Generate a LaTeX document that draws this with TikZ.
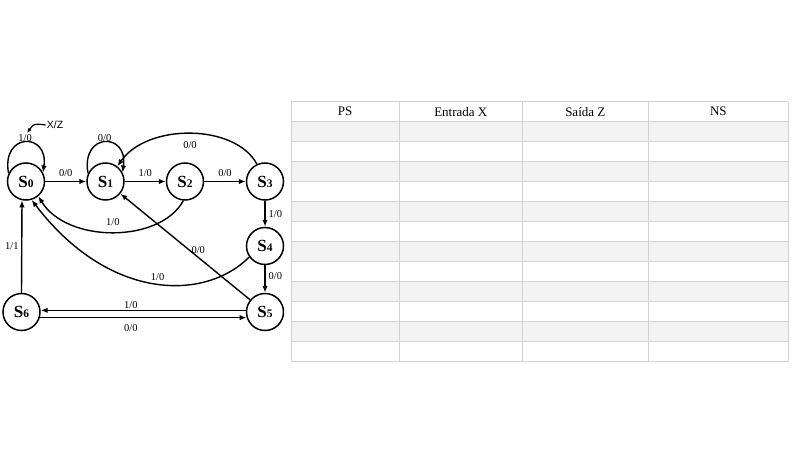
\documentclass[tikz,border=0pt]{standalone}
\usepackage{fontspec}
\setmainfont{Liberation Serif}
\newfontfamily\xzsans{Liberation Sans}
\usetikzlibrary{arrows.meta,calc}
\definecolor{gridline}{HTML}{D2D2D2}
\definecolor{rowgray}{HTML}{F3F3F3}
\newcommand\stname[1]{{\fontsize{17}{17}\selectfont\bfseries S}{\fontsize{11.5}{11.5}\selectfont\bfseries #1}}
\begin{document}
\begin{tikzpicture}[x=1pt,y=-1pt,
  state/.style={circle,draw,line width=1.5pt,minimum size=37pt,inner sep=0pt},
  edge/.style={line width=1.4pt,-{Latex[length=7pt,width=5.5pt]}},
  lbl/.style={font=\fontsize{10.5}{10.5}\selectfont,inner sep=1pt},
  hdr/.style={font=\fontsize{13}{13}\selectfont,inner sep=0pt},
  tline/.style={draw=gridline,line width=0.9pt},
  ]
\useasboundingbox (0,0) rectangle (800,465);

% ---------- table ----------
\foreach \r in {0,2,4,6,8,10}{
  \fill[rowgray] (291,{121.7+20*\r}) rectangle (788.3,{141.7+20*\r});
}
\foreach \y in {101.7,121.7,141.7,161.7,181.7,201.7,221.7,241.7,261.7,281.7,301.7,321.7,341.7,361.7}{
  \draw[tline] (291,\y) -- (788.3,\y);
}
\foreach \x in {291,399.3,522.3,648.3,788.3}{
  \draw[tline] (\x,101.7) -- (\x,361.7);
}
\node[hdr] (hPS) at (345,111.7) {PS};
\node[hdr] (hX) at (460.8,111.7) {Entrada X};
\node[hdr] (hZ) at (585.3,111.7) {Saída Z};
\node[hdr] (hNS) at (718.3,111.7) {NS};

% ---------- states ----------
\node[state] (S0) at (26,181.5) {\stname{0}};
\node[state] (S1) at (105.5,181.5) {\stname{1}};
\node[state] (S2) at (185,181.5) {\stname{2}};
\node[state] (S3) at (265,181.5) {\stname{3}};
\node[state] (S4) at (265,246) {\stname{4}};
\node[state] (S5) at (265,312) {\stname{5}};
\node[state] (S6) at (21.5,312) {\stname{6}};

% ---------- transitions ----------
\draw[edge] (S0.155) .. controls (1,132) and (49,132) .. node[lbl,pos=0.5,yshift=4pt] {1/0} (S0.28);
\draw[edge] (S1.155) .. controls (80.5,132) and (128.5,132) .. node[lbl,pos=0.5,yshift=4pt] {0/0} (S1.28);

\draw[edge] (S0) -- node[lbl,above=3pt] {0/0} (S1);
\draw[edge] (S1) -- node[lbl,above=3pt] {1/0} (S2);
\draw[edge] (S2) -- node[lbl,above=3pt] {0/0} (S3);

\draw[edge] (S3.115) .. controls (235,123.3) and (147,123.3) .. node[lbl,pos=0.5,yshift=-11pt] {0/0} (S1.52);

\draw[edge] (S3) -- node[lbl,right=2pt] {1/0} (S4);
\draw[edge] (S4) -- node[lbl,right=2pt,pos=0.4] {0/0} (S5);

\draw[edge] (S2.265) .. controls (160,243.4) and (67,243.4) .. node[lbl,pos=0.5,yshift=10pt] {1/0} (S0.310);
\draw[edge] (S4.215) .. controls (205,301.4) and (109,301.4) .. node[lbl,pos=0.48,yshift=7pt] {1/0} (S0.287);

\draw[edge] (S5) -- node[lbl,pos=0.4,above=2pt] {0/0} (S1);

\draw[edge] (S6.north) -- node[lbl,left=1.5pt] {1/1} (S0.258);

\draw[edge] (S5.175) -- node[lbl,pos=0.56,above=0.5pt] {1/0} (S6.5);
\draw[edge] (S6.343) -- node[lbl,pos=0.44,below=5pt] {0/0} (S5.197);

% ---------- X/Z annotation ----------
\node[font=\xzsans\fontsize{10.5}{10.5}\selectfont,inner sep=1pt] (xz) at (55,125) {X/Z};
\coordinate (xzt) at (27,133);
\draw[line width=1.2pt,-{Latex[length=5pt,width=4pt]}] (xz.west) .. controls (34,123.5) .. (xzt);
\end{tikzpicture}
\end{document}
